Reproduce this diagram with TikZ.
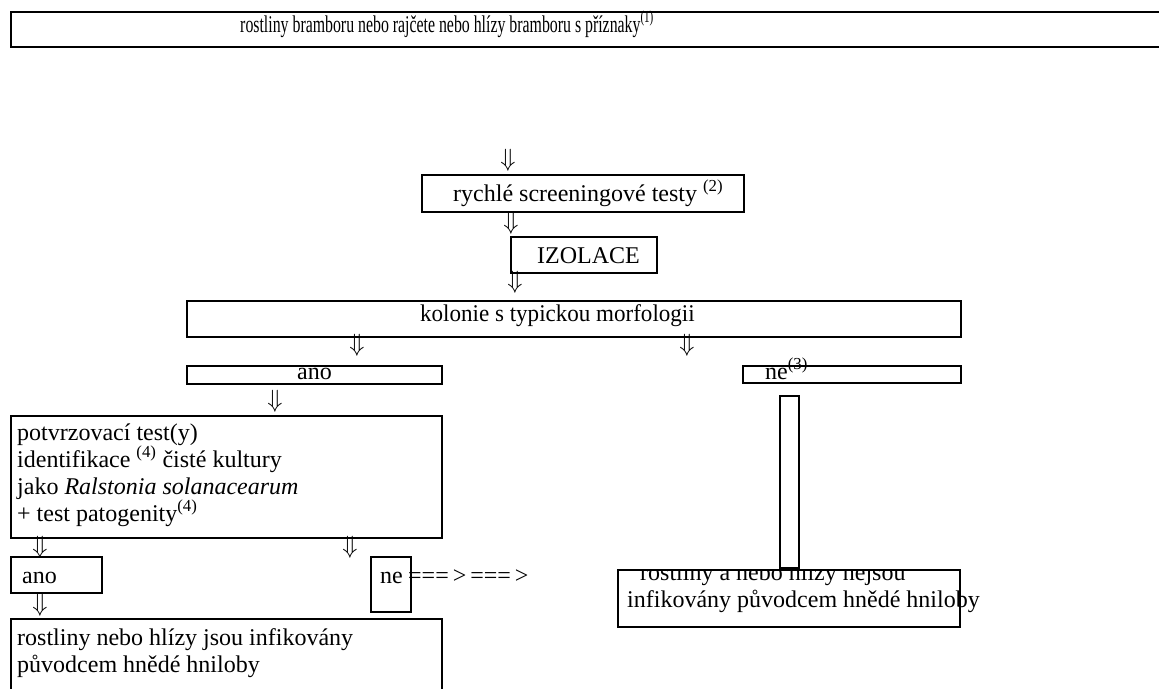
\documentclass[tikz,border=0pt]{standalone}
\usepackage{fontspec}
\setmainfont{Liberation Serif}
\usepackage{graphicx}
\usetikzlibrary{positioning}

\begin{document}
\begin{tikzpicture}[x=1pt, y=-1pt,
  box/.style = {draw, line width=2pt, anchor=north west, inner sep=0pt},
  txt/.style = {anchor=base west, inner sep=0pt, font=\fontsize{24}{27}\selectfont},
  dn/.style  = {inner sep=0pt, font=\fontsize{25}{25}\selectfont}]
  \clip (0,0) rectangle (1159,688);

  % boxes
  \node[box, minimum width=1170, minimum height=35] (top) at (10,11) {};
  \node[box, minimum width=322, minimum height=37] (scr) at (421,174) {};
  \node[box, minimum width=146, minimum height=36] (izo) at (510,236) {};
  \node[box, minimum width=774, minimum height=36] (kol) at (186,300) {};
  \node[box, minimum width=255, minimum height=18] (ano1) at (186,365) {};
  \node[box, minimum width=218, minimum height=17] (ne1) at (742,365) {};
  \node[box, minimum width=19, minimum height=172] (bar) at (779,395) {};
  \node[box, minimum width=431, minimum height=122] (pot) at (10,415) {};
  \node[box, minimum width=91, minimum height=36] (ano2) at (10,556) {};
  \node[box, minimum width=40, minimum height=55] (ne2) at (370,556) {};
  \node[box, minimum width=431, minimum height=90] (pos) at (10,618) {};
  \node[box, minimum width=342, minimum height=57] (neg) at (617,569) {};

  % texts
  \node[txt, anchor=base] (tTop) at (447,32)
    {\scalebox{0.66}[1]{rostliny bramboru nebo rajčete nebo hlízy bramboru s příznaky\textsuperscript{(1)}}};
  \node[txt] (tScr) at (453,201) {rychlé screeningové testy \textsuperscript{(2)}};
  \node[txt] (tIzo) at (537,263) {IZOLACE};
  \node[txt] (tKol) at (420,321) {\scalebox{0.96}[1]{kolonie s typickou morfologii}};
  \node[txt] (tAno1) at (297,379) {ano};
  \node[txt] (tNe1) at (765,379) {ne\textsuperscript{(3)}};
  \node[txt] (tPot1) at (17,440) {potvrzovací test(y)};
  \node[txt] (tPot2) at (17,467) {identifikace \textsuperscript{(4)} čisté kultury};
  \node[txt] (tPot3) at (17,494) {jako \textit{Ralstonia solanacearum}};
  \node[txt] (tPot4) at (17,521) {+ test patogenity\textsuperscript{(4)}};
  \node[txt] (tAno2) at (22,583) {ano};
  \node[txt] (tNe2) at (380,583) {ne};
  \node[txt] (tEq) at (408,583) {===\,>\,===\,>};
  \node[txt] (tPos1) at (17,645) {rostliny nebo hlízy jsou infikovány};
  \node[txt] (tPos2) at (17,672) {původcem hnědé hniloby};
  \begin{scope}
    \clip (600,570) rectangle (1159,688);
    \node[txt] (tNeg1) at (640,580) {rostliny a nebo hlízy nejsou};
  \end{scope}
  \node[txt] (tNeg2) at (627,607) {infikovány původcem hnědé hniloby};

  % arrows
  \node[dn] (d1) at (508,160) {$\Downarrow$};
  \node[dn] (d2) at (511,223) {$\Downarrow$};
  \node[dn] (d3) at (515,282) {$\Downarrow$};
  \node[dn] (d4) at (357,345) {$\Downarrow$};
  \node[dn] (d5) at (687,345) {$\Downarrow$};
  \node[dn] (d6) at (275,401) {$\Downarrow$};
  \node[dn] (d7) at (40,547) {$\Downarrow$};
  \node[dn] (d8) at (350,547) {$\Downarrow$};
  \node[dn] (d9) at (40,605) {$\Downarrow$};
\end{tikzpicture}
\end{document}
